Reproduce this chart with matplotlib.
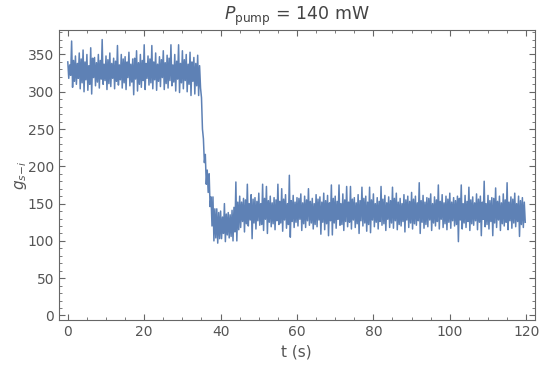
import numpy as np
import matplotlib
matplotlib.use('Agg')
import matplotlib.pyplot as plt
from matplotlib.ticker import MultipleLocator

# values, four samples per second:
# g_hi at t = k, g_lo at k + 0.25, g_hi2 at k + 0.5, g_lo2 at k + 0.75 (s)
g_hi = [340, 368, 348, 352, 356, 350, 359, 346, 350, 370,
        348, 352, 345, 362, 350, 347, 353, 344, 355, 350,
        363, 348, 362, 352, 347, 355, 349, 363, 350, 363,
        355, 350, 353, 346, 349, 292, 216, 190, 159, 143,
        140, 150, 138, 141, 179, 160, 157, 176, 162, 158,
        164, 176, 173, 160, 158, 176, 170, 162, 188, 161,
        158, 163, 160, 170, 157, 162, 159, 164, 161, 175,
        160, 175, 163, 173, 173, 158, 162, 172, 160, 172,
        163, 158, 173, 161, 159, 172, 164, 157, 162, 160,
        165, 160, 178, 161, 158, 163, 159, 175, 162, 160,
        164, 158, 160, 175, 161, 172, 159, 163, 160, 180,
        161, 158, 171, 160, 163, 178, 159, 164, 160, 158]
g_lo = [318, 306, 310, 304, 300, 302, 297, 308, 305, 310,
        303, 307, 304, 309, 305, 303, 308, 296, 301, 306,
        303, 309, 304, 302, 307, 303, 305, 308, 301, 299,
        304, 300, 295, 297, 295, 250, 176, 146, 100, 97,
        103, 99, 104, 100, 100, 118, 112, 120, 103, 116,
        121, 114, 110, 119, 115, 122, 113, 117, 105, 118,
        120, 114, 118, 121, 116, 119, 109, 115, 107, 108,
        117, 121, 114, 119, 116, 118, 110, 120, 113, 111,
        119, 116, 121, 114, 118, 117, 115, 120, 112, 118,
        116, 121, 110, 117, 119, 114, 120, 116, 118, 115,
        117, 120, 99, 116, 118, 114, 121, 115, 107, 119,
        116, 107, 118, 114, 120, 115, 117, 119, 106, 118]
g_hi2 = [336, 342, 338, 344, 340, 335, 345, 339, 342, 337,
         343, 338, 341, 336, 344, 340, 337, 345, 339, 342,
         338, 344, 340, 337, 343, 339, 345, 336, 341, 338,
         343, 337, 340, 338, 335, 237, 195, 159, 143, 138,
         132, 136, 135, 145, 152, 152, 155, 150, 156, 153,
         150, 157, 154, 151, 155, 153, 156, 150, 154, 152,
         157, 151, 155, 153, 150, 156, 152, 154, 151, 157,
         153, 150, 155, 152, 156, 151, 154, 157, 152, 155,
         150, 153, 156, 151, 154, 157, 152, 150, 155, 153,
         156, 151, 154, 152, 157, 150, 155, 153, 151, 156,
         152, 154, 157, 150, 153, 155, 151, 156, 152, 150,
         154, 157, 153, 151, 155, 152, 156, 150, 154, 152]
g_lo2 = [322, 314, 318, 312, 316, 310, 319, 313, 317, 315,
         311, 318, 314, 316, 312, 319, 313, 317, 310, 315,
         318, 312, 316, 314, 319, 311, 315, 313, 317, 312,
         315, 310, 314, 308, 305, 205, 165, 120, 104, 103,
         110, 108, 106, 112, 115, 126, 123, 128, 124, 127,
         122, 129, 125, 123, 127, 124, 128, 122, 126, 125,
         129, 123, 127, 124, 122, 128, 125, 123, 127, 124,
         129, 122, 126, 125, 128, 123, 127, 124, 122, 128,
         125, 126, 123, 129, 124, 127, 122, 126, 128, 124,
         123, 127, 125, 122, 128, 124, 126, 129, 123, 125,
         127, 122, 128, 124, 126, 123, 127, 125, 129, 122,
         126, 124, 128, 123, 125, 127, 124, 126, 122, 125]
dt = 0.25  # sampling step, s

g = np.empty(4 * len(g_hi))
g[0::4] = g_hi
g[1::4] = g_lo
g[2::4] = g_hi2
g[3::4] = g_lo2
t = np.arange(len(g)) * dt

gray = '#666666'
plt.rcParams['mathtext.fontset'] = 'dejavusans'

fig = plt.figure(figsize=(5.4, 3.68), dpi=100)
ax = fig.add_axes([0.109, 0.130, 0.881, 0.788])
ax.plot(t, g, color='#5E81B5', lw=1.1)

ax.set_xlim(-2.34, 122.2)
ax.set_ylim(-6.3, 382.6)
ax.xaxis.set_major_locator(MultipleLocator(20))
ax.xaxis.set_minor_locator(MultipleLocator(5))
ax.yaxis.set_major_locator(MultipleLocator(50))
ax.yaxis.set_minor_locator(MultipleLocator(10))
ax.tick_params(which='both', direction='in', top=True, right=True,
               color=gray, labelcolor='#555555', labelsize=10)
ax.tick_params(which='major', length=4)
ax.tick_params(which='minor', length=2)
for s in ax.spines.values():
    s.set_color(gray)

ax.set_xlabel('t (s)', color='#555555', fontsize=11)
ax.set_ylabel(r'$g_{s\!-\!i}$', color='#555555', fontsize=11)
ax.yaxis.set_label_coords(-0.062, 0.5)
ax.set_title(r'$P_{\mathrm{pump}}$ = 140 mW', color='#444444', fontsize=12.5, pad=7)

fig.savefig('out.png', dpi=100)
